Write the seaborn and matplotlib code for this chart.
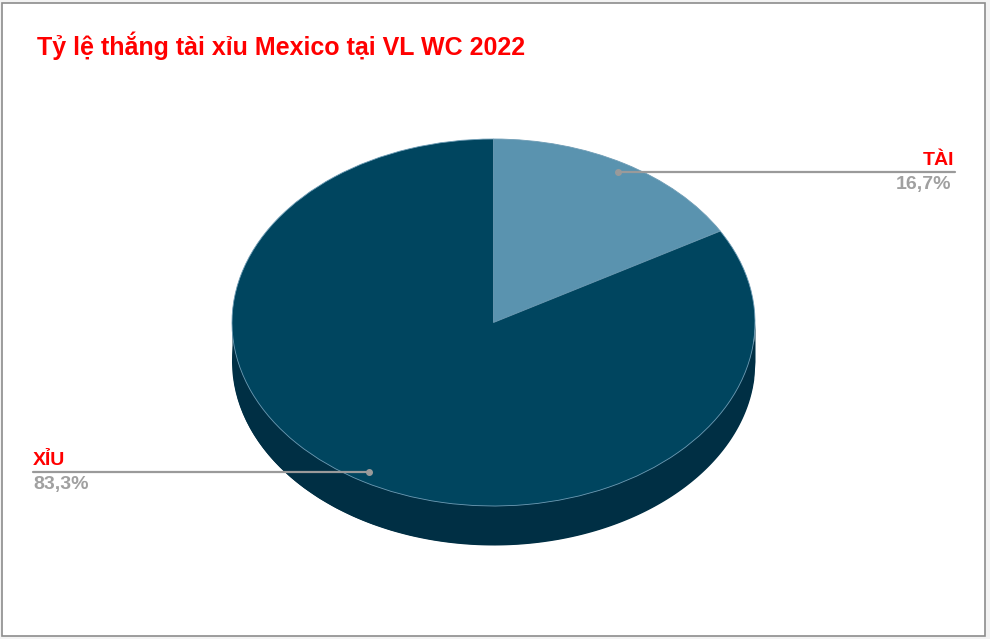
import numpy as np
import matplotlib
matplotlib.use("Agg")
import matplotlib.pyplot as plt
import seaborn as sns
from matplotlib.patches import Rectangle

# data
labels = ["TÀI", "XỈU"]
shares = [16.7, 83.3]
pct_text = ["16,7%", "83,3%"]
top_colors = ["#5A93AF", "#00455F"]
side_color = "#002F44"
title = "Tỷ lệ thắng tài xỉu Mexico tại VL WC 2022"

sns.set_theme(style="white")
plt.rcParams['font.family'] = ['Liberation Sans', 'DejaVu Sans']

W, H = 990, 639
fig = plt.figure(figsize=(W / 100, H / 100), dpi=100)
fig.patch.set_facecolor("#F3F3F3")

# chart area frame
fig.patches.append(Rectangle((2 / W, 3 / H), 983 / W, 633 / H, transform=fig.transFigure,
                             facecolor="white", edgecolor="#8C8C8C", lw=1.2, zorder=-5))

# pie geometry in pixels
cx, cy, rx, ry, depth = 493.5, 322.5, 261.5, 183.5, 39

ax = fig.add_axes([0, 0, 1, 1])
ax.patch.set_alpha(0)

# side (3D depth) - bottom layer and band
ax.pie(shares, colors=[side_color, side_color], startangle=90, counterclock=False,
       center=(0, -depth / ry), radius=1, wedgeprops=dict(linewidth=0))
xs = np.linspace(-1, 1, 400)
ax.fill_between(xs, -np.sqrt(1 - xs ** 2), -np.sqrt(1 - xs ** 2) - depth / ry,
                color=side_color, lw=0)

# top face
wedges, _ = ax.pie(shares, colors=top_colors, startangle=90, counterclock=False,
                   center=(0, 0), radius=1,
                   wedgeprops=dict(linewidth=0.6, edgecolor="#6E9CB5"))

ax.set_aspect("auto")
ax.set_xlim((0 - cx) / rx, (W - cx) / rx)
ax.set_ylim((cy - H) / ry, (cy - 0) / ry)
ax.axis("off")

# leader lines and labels
def px(x, y):
    return (x - cx) / rx, (cy - y) / ry

lc = "#9A9A9A"
# TÀI
x0, y0 = px(618, 172)
x1, _ = px(955, 172)
ax.plot([x0, x1], [y0, y0], color=lc, lw=1.6)
ax.plot(x0, y0, "o", color=lc, ms=4)
ax.text(px(954, 0)[0], y0 + 0.015, labels[0], color="#FF0000", fontsize=14, fontweight="bold",
        ha="right", va="bottom")
ax.text(px(951, 0)[0], y0 - 0.02, pct_text[0], color="#A0A0A0", fontsize=14, fontweight="bold",
        ha="right", va="top")
# XỈU
x0, y0 = px(369, 472)
x1, _ = px(33, 472)
ax.plot([x1, x0], [y0, y0], color=lc, lw=1.6)
ax.plot(x0, y0, "o", color=lc, ms=4)
ax.text(x1, y0 + 0.015, labels[1], color="#FF0000", fontsize=14, fontweight="bold",
        ha="left", va="bottom")
ax.text(x1, y0 - 0.02, pct_text[1], color="#A0A0A0", fontsize=14, fontweight="bold",
        ha="left", va="top")

fig.text(37 / W, 1 - 46 / H, title, color="#FF0000", fontsize=18, fontweight="bold",
         ha="left", va="center")

fig.savefig("out.png", dpi=100)
